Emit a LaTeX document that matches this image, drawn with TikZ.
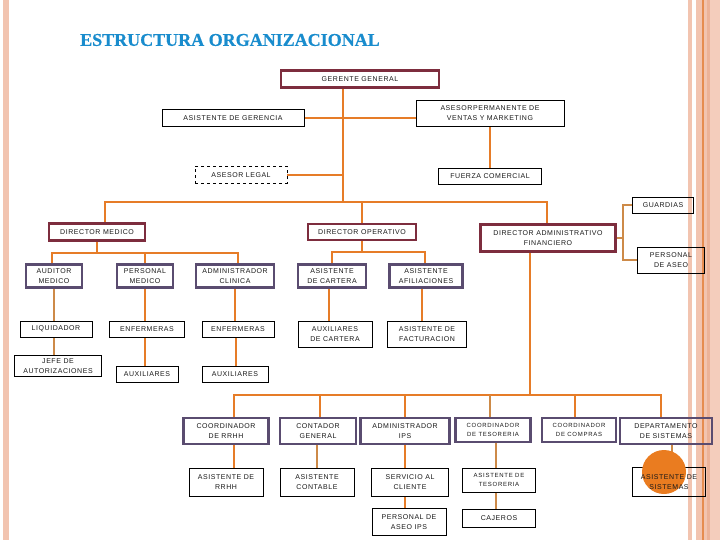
\documentclass[tikz,border=0pt]{standalone}
\usepackage{fontspec}
\setmainfont{Liberation Sans}
\newfontfamily\titlefont[FakeBold=0.6]{Liberation Serif}
\newfontfamily\boxfont[LetterSpace=8]{Liberation Sans}
\newfontfamily\tinyboxfont[LetterSpace=12]{Liberation Sans}
\usetikzlibrary{backgrounds}
\definecolor{maroonb}{RGB}{125,45,62}
\definecolor{purpleb}{RGB}{90,76,112}
\definecolor{connc}{RGB}{230,124,40}
\definecolor{tanc}{RGB}{205,138,72}
\definecolor{stripe}{RGB}{242,196,176}
\definecolor{stripeb}{RGB}{236,178,152}
\definecolor{stripel}{RGB}{230,140,80}
\definecolor{titleblue}{RGB}{25,140,205}
\definecolor{circc}{RGB}{234,124,32}
\begin{document}
\begin{tikzpicture}[x=1pt,y=-1pt,
 base/.style={inner sep=0pt, align=center, font=\boxfont\fontsize{7}{9.3}\selectfont, text=black!90},
 smalltext/.style={font=\tinyboxfont\fontsize{6}{8.5}\selectfont},
 thinbox/.style={base, draw=black, line width=0.9pt},
 dashbox/.style={thinbox, dashed},
 maroonbox/.style={base, draw=maroonb, line width=2.8pt},
 purplebox/.style={base, draw=purpleb, line width=2.8pt},
 conn/.style={draw=connc, line width=2pt},
 tanconn/.style={draw=tanc, line width=2pt},
 sz/.style n args={2}{minimum width=#1pt, minimum height=#2pt}
]
\useasboundingbox (0,0) rectangle (720,540);

% title
\node[anchor=west, inner sep=0pt, font=\titlefont\bfseries\fontsize{18}{20}\selectfont, text=titleblue] (title) at (80,40) {ESTRUCTURA ORGANIZACIONAL};

% top
\node[maroonbox, sz={158}{17}] (gg) at (360,79) {GERENTE GENERAL};
\node[thinbox, sz={148}{26}] (asesor) at (490,113) {ASESORPERMANENTE DE\\VENTAS Y MARKETING};
\node[thinbox, sz={142}{17}] (asisg) at (233,118) {ASISTENTE DE GERENCIA};
\node[dashbox, sz={92}{17}] (legal) at (241,175) {ASESOR LEGAL};
\node[thinbox, sz={103}{16}] (fuerza) at (490,176) {FUERZA COMERCIAL};
\node[thinbox, sz={61}{16}] (guardias) at (663,205) {GUARDIAS};

% directors
\node[maroonbox, sz={96}{17}] (dm) at (97,232) {DIRECTOR MEDICO};
\node[maroonbox, sz={108}{16}] (do) at (362,232) {DIRECTOR OPERATIVO};
\node[maroonbox, sz={135}{27}] (daf) at (548,238) {DIRECTOR ADMINISTRATIVO\\FINANCIERO};
\node[thinbox, sz={67}{26}] (aseo) at (671,260) {PERSONAL\\DE ASEO};

% level 2
\node[purplebox, sz={56}{23}] (auditor) at (54,276) {AUDITOR\\MEDICO};
\node[purplebox, sz={56}{23}] (pmed) at (145,276) {PERSONAL\\MEDICO};
\node[purplebox, sz={78}{23}] (aclin) at (235,276) {ADMINISTRADOR\\CLINICA};
\node[purplebox, sz={68}{23}] (acart) at (332,276) {ASISTENTE\\DE CARTERA};
\node[purplebox, sz={73}{23}] (afil) at (426,276) {ASISTENTE\\AFILIACIONES};

% level 3
\node[thinbox, sz={72}{16}] (liq) at (56,329) {LIQUIDADOR};
\node[thinbox, sz={87}{21}] (jefe) at (58,366) {JEFE DE\\AUTORIZACIONES};
\node[thinbox, sz={75}{16}] (enf1) at (147,329) {ENFERMERAS};
\node[thinbox, sz={62}{16}] (aux1) at (147,374) {AUXILIARES};
\node[thinbox, sz={72}{16}] (enf2) at (238,329) {ENFERMERAS};
\node[thinbox, sz={66}{16}] (aux2) at (235,374) {AUXILIARES};
\node[thinbox, sz={74}{26}] (auxcart) at (335,334) {AUXILIARES\\DE CARTERA};
\node[thinbox, sz={79}{26}] (fact) at (427,334) {ASISTENTE DE\\FACTURACION};

% admin/financiero branch
\node[purplebox, sz={85}{26}] (rrhh) at (226,431) {COORDINADOR\\DE RRHH};
\node[purplebox, sz={76}{26}] (cont) at (318,431) {CONTADOR\\GENERAL};
\node[purplebox, sz={89}{26}] (aips) at (405,431) {ADMINISTRADOR\\IPS};
\node[purplebox, smalltext, sz={75}{24}] (ctes) at (493,430) {COORDINADOR\\DE TESORERIA};
\node[purplebox, smalltext, sz={74}{24}] (ccomp) at (579,430) {COORDINADOR\\DE COMPRAS};
\node[purplebox, sz={92}{26}] (dsis) at (666,431) {DEPARTAMENTO\\DE SISTEMAS};

\node[thinbox, sz={74}{28}] (arrhh) at (226,482) {ASISTENTE DE\\RRHH};
\node[thinbox, sz={74}{28}] (acont) at (317,482) {ASISTENTE\\CONTABLE};
\node[thinbox, sz={77}{28}] (scli) at (410,482) {SERVICIO AL\\CLIENTE};
\node[thinbox, sz={74}{27}] (pips) at (409,522) {PERSONAL DE\\ASEO IPS};
\node[thinbox, smalltext, sz={73}{24}] (ates) at (499,480) {ASISTENTE DE\\TESORERIA};
\node[thinbox, sz={73}{18}] (caj) at (499,518) {CAJEROS};
\node[base, sz={73}{28}] (asis) at (669,482) {ASISTENTE DE\\SISTEMAS};

\coordinate (barA) at (343,202);
\coordinate (dafj) at (623,238);
\coordinate (dmj) at (97,253);
\coordinate (doj) at (362,252);
\coordinate (dafb) at (530,395);

\begin{scope}[on background layer]
% decorative stripes
\fill[stripe] (3,0) rectangle (9,540);
\fill[stripe] (688,0) rectangle (692,540);
\fill[stripe] (696,0) rectangle (710,540);
\fill[stripeb] (707,0) rectangle (710,540);
\fill[stripe!85] (710,0) rectangle (720,540);
\fill[stripel] (702,0) rectangle (703.5,540);

% connectors
\draw[conn] ([xshift=-17pt]gg.south) -- (barA);
\draw[conn] (asisg.east) -- (asisg.east -| asesor.west);
\draw[conn] (asesor.south) -- (fuerza.north);
\draw[conn] (legal.east) -- (legal.east -| barA);
\draw[conn] ([xshift=8pt]dm.north) |- (barA) -| ([xshift=-1pt]daf.north);
\draw[conn] (do.north) -- (do.north |- barA);

\draw[tanconn] (daf.east) -- (dafj);
\draw[tanconn] (guardias.west) -| (dafj);
\draw[tanconn] (aseo.west) -| (dafj);

\draw[conn] (dm.south) -- (dmj);
\draw[conn] ([xshift=-2pt]auditor.north) |- (dmj) -| ([xshift=3pt]aclin.north);
\draw[conn] (pmed.north) -- (pmed.north |- dmj);
\draw[conn] (do.south) -- (doj);
\draw[conn] (acart.north) |- (doj) -| ([xshift=-1pt]afil.north);

\draw[tanconn] (auditor.south) -- (auditor.south |- liq.north);
\draw[tanconn] (auditor.south |- liq.south) -- (auditor.south |- jefe.north);
\draw[conn] (pmed.south) -- (pmed.south |- enf1.north);
\draw[conn] (pmed.south |- enf1.south) -- (pmed.south |- aux1.north);
\draw[conn] (aclin.south) -- (aclin.south |- enf2.north);
\draw[conn] ([xshift=1pt]aclin.south |- enf2.south) -- ([xshift=1pt]aclin.south |- aux2.north);
\draw[conn] ([xshift=-3pt]acart.south) -- ([xshift=-3pt]acart.south |- auxcart.north);
\draw[conn] ([xshift=-4pt]afil.south) -- ([xshift=-4pt]afil.south |- fact.north);

\draw[conn] ([xshift=-18pt]daf.south) -- (dafb);
\draw[conn] ([xshift=8pt]rrhh.north) |- (dafb) -| ([xshift=-5pt]dsis.north);
\draw[conn] ([xshift=2pt]cont.north) -- ([xshift=2pt]cont.north |- dafb);
\draw[conn] (aips.north) -- (aips.north |- dafb);
\draw[tanconn] ([xshift=-3pt]ctes.north) -- ([xshift=-3pt]ctes.north |- dafb);
\draw[conn] ([xshift=-4pt]ccomp.north) -- ([xshift=-4pt]ccomp.north |- dafb);

\draw[conn] ([xshift=8pt]rrhh.south) -- ([xshift=8pt]rrhh.south |- arrhh.north);
\draw[tanconn] ([xshift=-1pt]cont.south) -- ([xshift=-1pt]cont.south |- acont.north);
\draw[conn] (aips.south) -- (aips.south |- scli.north);
\draw[conn] (aips.south |- scli.south) -- (aips.south |- pips.north);
\draw[tanconn] ([xshift=3pt]ctes.south) -- ([xshift=3pt]ctes.south |- ates.north);
\draw[tanconn] ([xshift=3pt]ctes.south |- ates.south) -- ([xshift=3pt]ctes.south |- caj.north);
\draw[tanconn] ([xshift=6pt]dsis.south) -- ([xshift=6pt]dsis.south |- asis.north);

% box of asistente de sistemas under the orange circle
\draw[black, line width=0.9pt] (asis.north west) rectangle (asis.south east);
\fill[circc] (664,472) circle (22);
\end{scope}
\end{tikzpicture}
\end{document}
